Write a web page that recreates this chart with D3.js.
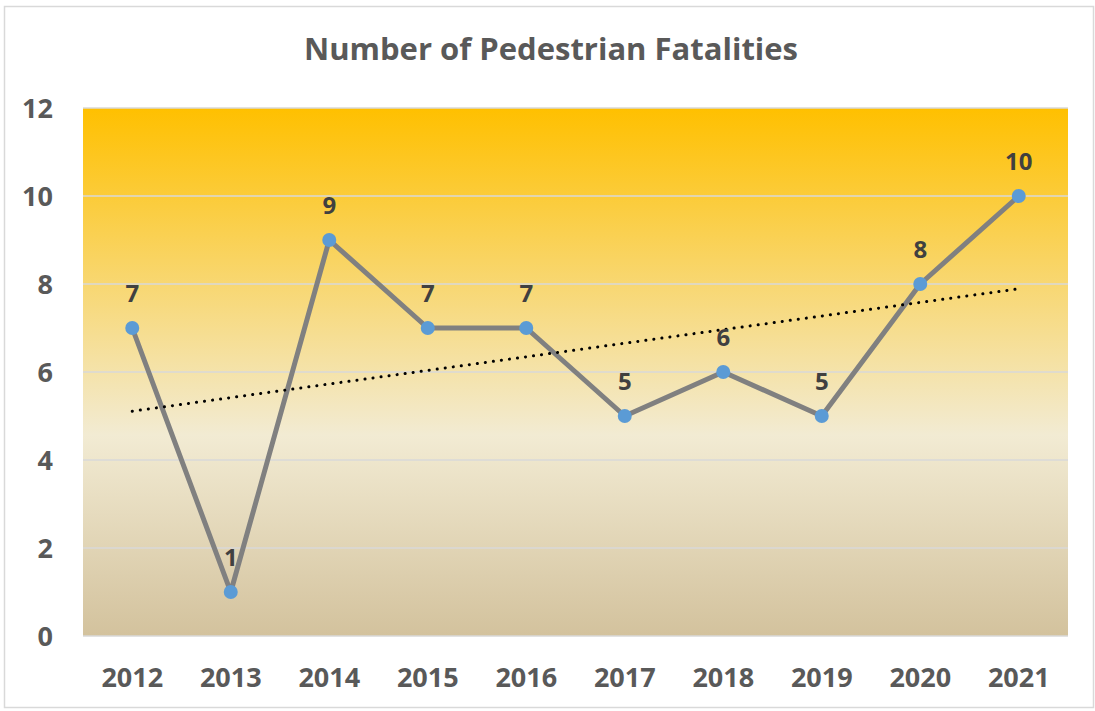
<!DOCTYPE html>
<html><head><meta charset="utf-8">
<script src="https://cdn.jsdelivr.net/npm/d3@7"></script>
<style>body{margin:0;background:#fff}svg{display:block}</style>
</head><body>
<svg id="c" width="1095" height="711"></svg>
<script>
const years = ["2012","2013","2014","2015","2016","2017","2018","2019","2020","2021"];
const fatalities = [7,1,9,7,7,5,6,5,8,10];
const yTicks = [0,2,4,6,8,10,12];
const title = "Number of Pedestrian Fatalities";

const svg = d3.select("#c");
const W = 1095, H = 711;
const m = {left:83, right:1068, top:108, bottom:636};
const font = "'Open Sans', 'Noto Sans', sans-serif";

svg.append("rect").attr("x",4.5).attr("y",6.5).attr("width",W-6).attr("height",H-10)
  .attr("fill","#fff").attr("stroke","#D9D9D9").attr("stroke-width",1.5);

const defs = svg.append("defs");
const g = defs.append("linearGradient").attr("id","bg").attr("x1",0).attr("y1",0).attr("x2",0).attr("y2",1);
g.append("stop").attr("offset","0").attr("stop-color","#FFC000");
g.append("stop").attr("offset","0.62").attr("stop-color","#F2EBD3");
g.append("stop").attr("offset","1").attr("stop-color","#D3C29D");

const x = d3.scaleBand().domain(years).range([m.left,m.right]);
const y = d3.scaleLinear().domain([0,12]).range([m.bottom,m.top]);

svg.append("rect").attr("x",m.left).attr("y",m.top).attr("width",m.right-m.left).attr("height",m.bottom-m.top)
  .attr("fill","url(#bg)");

// gridlines
svg.append("g").selectAll("line").data(yTicks).join("line")
  .attr("x1",m.left).attr("x2",m.right).attr("y1",d=>y(d)).attr("y2",d=>y(d))
  .attr("stroke","#D9D9D9").attr("stroke-width",1.5);

// y axis
const yAx = svg.append("g").attr("transform",`translate(${m.left},0)`)
  .call(d3.axisLeft(y).tickValues(yTicks).tickSize(0).tickPadding(30));
yAx.select(".domain").remove();
yAx.selectAll("text").attr("font-family",font).attr("font-weight","bold").attr("font-size",27)
  .attr("dy","0.36em").attr("fill","#595959");

// x axis
const xAx = svg.append("g").attr("transform",`translate(0,${m.bottom})`)
  .call(d3.axisBottom(x).tickSize(0));
xAx.select(".domain").remove();
xAx.selectAll("text").attr("font-family",font).attr("font-weight","bold").attr("font-size",27)
  .attr("y",51).attr("dy",0).attr("fill","#595959");

const cx = d => x(d) + x.bandwidth()/2;

// line
svg.append("path").datum(fatalities.map((v,i)=>[cx(years[i]),y(v)]))
  .attr("d",d3.line()).attr("fill","none").attr("stroke","#808080").attr("stroke-width",5).attr("stroke-linejoin","round");

// trend (least squares)
const n = fatalities.length;
const xs = d3.range(1,n+1);
const mx = d3.mean(xs), my = d3.mean(fatalities);
const slope = d3.sum(xs.map((xi,i)=>(xi-mx)*(fatalities[i]-my))) / d3.sum(xs.map(xi=>(xi-mx)**2));
const icpt = my - slope*mx;
svg.append("line")
  .attr("x1",cx(years[0])).attr("y1",y(icpt+slope*1))
  .attr("x2",cx(years[n-1])).attr("y2",y(icpt+slope*n))
  .attr("stroke","#000").attr("stroke-width",3).attr("stroke-linecap","round")
  .attr("stroke-dasharray","0.1 8");

// markers
svg.append("g").selectAll("circle").data(fatalities).join("circle")
  .attr("cx",(d,i)=>cx(years[i])).attr("cy",d=>y(d)).attr("r",7).attr("fill","#5B9BD5");

// labels
svg.append("g").selectAll("text").data(fatalities).join("text")
  .attr("x",(d,i)=>cx(years[i])).attr("y",d=>y(d)-26)
  .attr("text-anchor","middle").attr("font-family",font).attr("font-weight","bold").attr("font-size",24)
  .attr("fill","#404040").text(d=>d);

// title
svg.append("text").attr("x",551).attr("y",60).attr("text-anchor","middle")
  .attr("font-family",font).attr("font-weight","bold").attr("font-size",31).attr("fill","#595959").text(title);
</script>
</body></html>
